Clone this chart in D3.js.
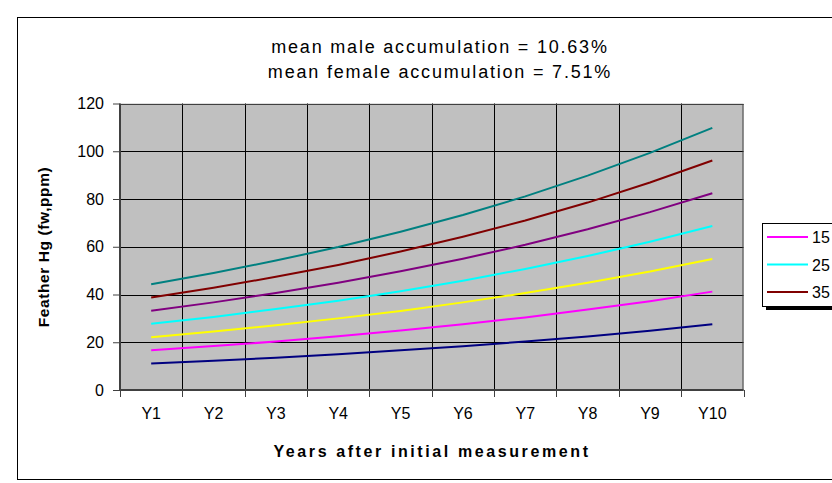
<!DOCTYPE html>
<html>
<head>
<meta charset="utf-8">
<script src="https://cdn.jsdelivr.net/npm/d3@7/dist/d3.min.js"></script>
<style>
  html, body { margin: 0; padding: 0; background: #ffffff; }
  svg { display: block; font-family: "Liberation Sans", Arial, sans-serif; }
</style>
</head>
<body>
<svg id="chart" width="832" height="483"></svg>
<script>
// ---- data ----
const categories = ["Y1","Y2","Y3","Y4","Y5","Y6","Y7","Y8","Y9","Y10"];
const yTicks = [0, 20, 40, 60, 80, 100, 120];
const s10 = [11.1, 12.2, 13.5, 15.0, 16.6, 18.3, 20.3, 22.4, 24.8, 27.5];
const s15 = [16.6, 18.4, 20.3, 22.5, 24.9, 27.5, 30.4, 33.7, 37.2, 41.2];
const s20 = [22.1, 24.5, 27.1, 30.0, 33.1, 36.7, 40.6, 44.9, 49.6, 54.9];
const s25 = [27.7, 30.6, 33.9, 37.4, 41.4, 45.8, 50.7, 56.1, 62.1, 68.7];
const s30 = [33.2, 36.7, 40.6, 44.9, 49.7, 55.0, 60.8, 67.3, 74.5, 82.4];
const s35 = [38.7, 42.8, 47.4, 52.4, 58.0, 64.2, 71.0, 78.5, 86.9, 96.1];
const s40 = [44.3, 49.0, 54.2, 59.9, 66.3, 73.3, 81.1, 89.8, 99.3, 109.8];
const seriesNames = ["10", "15", "20", "25", "30", "35", "40"];
const seriesValues = [s10, s15, s20, s25, s30, s35, s40];
const seriesColors = ["#000080", "#FF00FF", "#FFFF00", "#00FFFF", "#800080", "#800000", "#008080"];
const legendNames = ["15", "25", "35"];
const titleLines = ["mean male accumulation = 10.63%", "mean female accumulation = 7.51%"];
const yTitle = "Feather Hg (fw,ppm)";
const xTitle = "Years after initial measurement";

// ---- layout ----
const svg = d3.select("#chart");
const plot = { left: 120, top: 103.5, right: 743.5, bottom: 390 };

// outer chart border
svg.append("rect")
  .attr("x", 17.5).attr("y", 17.5)
  .attr("width", 900).attr("height", 462)
  .attr("fill", "#ffffff").attr("stroke", "#000000").attr("stroke-width", 1);

const x = d3.scaleBand().domain(categories).range([plot.left, plot.right]).padding(0);
const y = d3.scaleLinear().domain([0, 120]).range([plot.bottom, plot.top]);

// plot background
svg.append("rect")
  .attr("x", plot.left).attr("y", plot.top)
  .attr("width", plot.right - plot.left).attr("height", plot.bottom - plot.top)
  .attr("fill", "#C0C0C0");

// horizontal gridlines
svg.append("g").selectAll("line").data(yTicks.filter(d => d > 0)).join("line")
  .attr("x1", plot.left).attr("x2", plot.right)
  .attr("y1", d => Math.round(y(d)) + 0.5).attr("y2", d => Math.round(y(d)) + 0.5)
  .attr("stroke", "#000000").attr("stroke-width", 1);

// vertical gridlines at category boundaries
const bounds = categories.slice(1).map(c => x(c));
svg.append("g").selectAll("line").data(bounds).join("line")
  .attr("x1", d => Math.round(d) + 0.5).attr("x2", d => Math.round(d) + 0.5)
  .attr("y1", plot.top).attr("y2", plot.bottom)
  .attr("stroke", "#000000").attr("stroke-width", 1);

// plot border (right/top)
svg.append("rect")
  .attr("x", plot.left + 0.5).attr("y", Math.round(plot.top) + 0.5)
  .attr("width", plot.right - plot.left - 1).attr("height", plot.bottom - Math.round(plot.top))
  .attr("fill", "none").attr("stroke", "#404040").attr("stroke-width", 1);

// y axis
const yAxis = d3.axisLeft(y).tickValues(yTicks).tickSize(7).tickPadding(9).tickFormat(d3.format("d"));
const gy = svg.append("g").attr("transform", `translate(${plot.left},0)`).call(yAxis);
gy.select(".domain").attr("stroke", "#404040").attr("stroke-width", 2).attr("d", `M0,${plot.top}V${plot.bottom}`);
gy.selectAll(".tick line").attr("stroke", "#404040").attr("stroke-width", 1);
gy.selectAll(".tick text").attr("font-size", 16).attr("fill", "#000000")
  .attr("font-family", "Liberation Sans, Arial, sans-serif");

// x axis
const xAxis = d3.axisBottom(x).tickSize(0).tickPadding(18);
const gx = svg.append("g").attr("transform", `translate(0,${plot.bottom})`).call(xAxis);
gx.select(".domain").attr("stroke", "#404040").attr("stroke-width", 2).attr("d", `M${plot.left},0H${plot.right}`);
gx.selectAll(".tick text").attr("font-size", 16).attr("fill", "#000000")
  .attr("font-family", "Liberation Sans, Arial, sans-serif");
// x tick marks at category boundaries
svg.append("g").selectAll("line").data([plot.left, ...bounds, plot.right]).join("line")
  .attr("x1", d => Math.round(d) + 0.5).attr("x2", d => Math.round(d) + 0.5)
  .attr("y1", plot.bottom).attr("y2", plot.bottom + 7)
  .attr("stroke", "#404040").attr("stroke-width", 1);

// lines
const line = d3.line()
  .x((d, i) => x(categories[i]) + x.bandwidth() / 2)
  .y(d => y(d));
svg.append("g").selectAll("path").data(seriesValues).join("path")
  .attr("d", d => line(d))
  .attr("fill", "none")
  .attr("stroke", (d, i) => seriesColors[i])
  .attr("stroke-width", 2);

// title
svg.append("g").selectAll("text").data(titleLines).join("text")
  .attr("x", 440).attr("y", (d, i) => 53 + i * 25)
  .attr("text-anchor", "middle").attr("font-size", 18).attr("fill", "#000000")
  .attr("letter-spacing", 1.8)
  .text(d => d);

// y title
svg.append("text")
  .attr("transform", "translate(49,247) rotate(-90)")
  .attr("text-anchor", "middle").attr("font-size", 15.5).attr("font-weight", "bold")
  .attr("letter-spacing", 0.6)
  .text(yTitle);

// x title
svg.append("text")
  .attr("x", 432).attr("y", 457)
  .attr("text-anchor", "middle").attr("font-size", 16).attr("font-weight", "bold")
  .attr("letter-spacing", 2.6)
  .text(xTitle);

// legend
const lg = { left: 762, top: 223, width: 90, height: 83 };
svg.append("rect")
  .attr("x", lg.left + 4).attr("y", lg.top + 4)
  .attr("width", lg.width).attr("height", lg.height)
  .attr("fill", "#000000");
svg.append("rect")
  .attr("x", lg.left + 0.5).attr("y", lg.top + 0.5)
  .attr("width", lg.width).attr("height", lg.height)
  .attr("fill", "#ffffff").attr("stroke", "#000000").attr("stroke-width", 1);
const legendColor = n => seriesColors[seriesNames.indexOf(n)];
const items = svg.append("g").selectAll("g").data(legendNames).join("g")
  .attr("transform", (d, i) => `translate(${lg.left},${lg.top + 14 + i * 27.5})`);
items.append("line")
  .attr("x1", 5).attr("x2", 46).attr("y1", 0).attr("y2", 0)
  .attr("stroke", d => legendColor(d)).attr("stroke-width", 2);
items.append("text")
  .attr("x", 50).attr("y", 6).attr("font-size", 16).attr("fill", "#000000")
  .text(d => d);
</script>
</body>
</html>
